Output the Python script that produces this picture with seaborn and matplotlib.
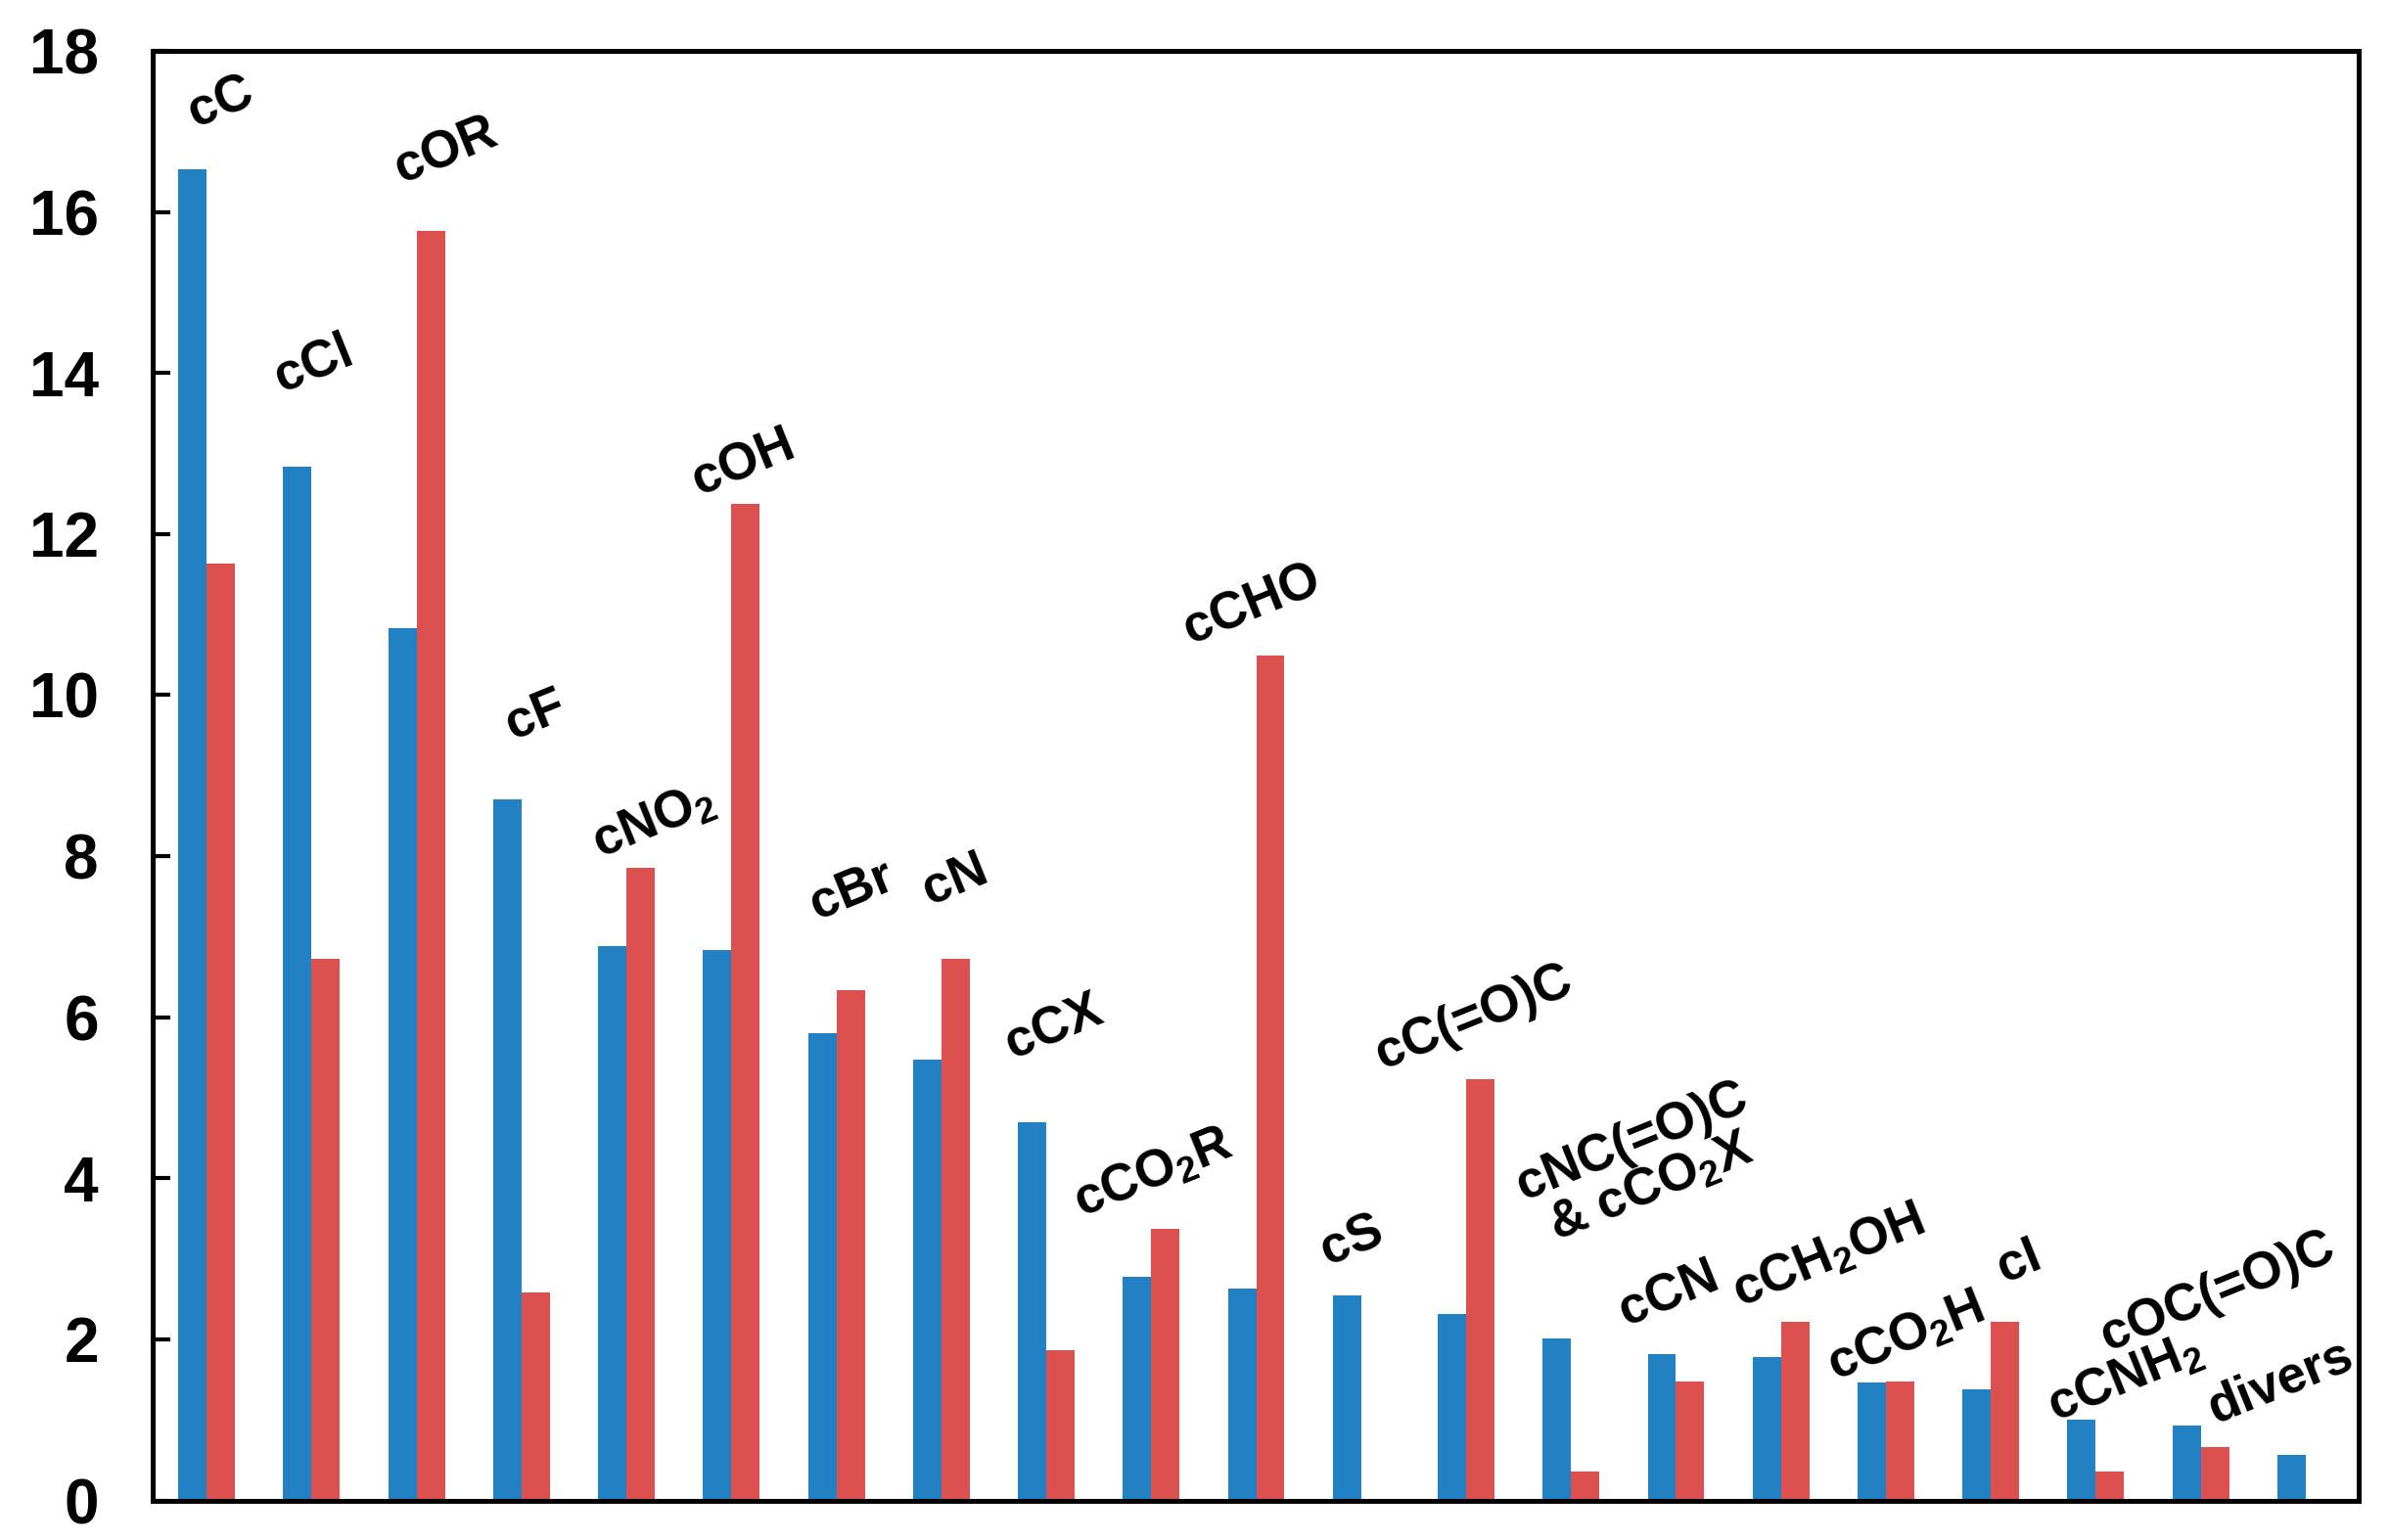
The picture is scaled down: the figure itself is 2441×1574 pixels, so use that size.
import numpy as np
import pandas as pd
import seaborn as sns
import matplotlib.pyplot as plt

groups = ['cC', 'cCl', 'cOR', 'cF', 'cNO2', 'cOH', 'cBr', 'cN', 'cCX', 'cCO2R',
          'cCHO', 'cS', 'cC(=O)C', 'cNC(=O)C & cCO2X', 'cCN', 'cCH2OH', 'cCO2H',
          'cI', 'cCNH2', 'cOC(=O)C', 'divers']
blue_vals = [16.53, 12.84, 10.83, 8.71, 6.88, 6.84, 5.80, 5.47, 4.70, 2.78,
             2.63, 2.54, 2.31, 2.01, 1.82, 1.78, 1.46, 1.38, 1.00, 0.93, 0.57]
red_vals = [11.63, 6.72, 15.76, 2.58, 7.86, 12.37, 6.34, 6.72, 1.86, 3.37,
            10.49, 0.0, 5.23, 0.36, 1.48, 2.22, 1.48, 2.22, 0.36, 0.66, 0.0]
bar_labels = ['cC', 'cCl', 'cOR', 'cF', r'cNO$_\mathbf{2}$', 'cOH', 'cBr', 'cN', 'cCX',
              r'cCO$_\mathbf{2}$R', 'cCHO', 'cS', 'cC(=O)C',
              'cNC(=O)C\n' + r'& cCO$_\mathbf{2}$X', 'cCN', r'cCH$_\mathbf{2}$OH',
              r'cCO$_\mathbf{2}$H', 'cI', r'cCNH$_\mathbf{2}$', 'cOC(=O)C', 'divers']
yticks = [0, 2, 4, 6, 8, 10, 12, 14, 16, 18]

# where the rotated labels sit (data coords)
label_x = [0.14, 1.02, 2.28, 3.13, 4.26, 5.12, 6.15, 7.13, 8.07, 9.02,
           9.96, 10.91, 12.07, 13.67, 13.93, 15.45, 16.19, 17.27, 18.28, 19.16, 19.76]
label_y = [17.35, 14.11, 16.76, 9.75, 8.43, 12.88, 7.58, 7.71, 5.87, 4.07,
           11.12, 3.22, 6.0, 4.17, 2.56, 3.03, 2.03, 2.97, 1.52, 2.59, 1.47]

df = pd.DataFrame({
    'group': groups * 2,
    'value': blue_vals + red_vals,
    'series': ['blue'] * len(groups) + ['red'] * len(groups),
})

sns.set_style('white')
plt.rcParams['font.family'] = ['Liberation Sans', 'DejaVu Sans']
plt.rcParams['font.weight'] = 'bold'
plt.rcParams['text.color'] = 'black'
plt.rcParams['ytick.color'] = 'black'
plt.rcParams['mathtext.fontset'] = 'custom'
plt.rcParams['mathtext.bf'] = 'Liberation Sans:bold'
plt.rcParams['mathtext.rm'] = 'Liberation Sans:bold'

fig = plt.figure(figsize=(24.41, 15.74), dpi=100)
ax = fig.add_axes([0.0641, 0.0257, 0.923, 0.9413])

sns.barplot(data=df, x='group', y='value', hue='series',
            palette=['#2181C2', '#DC5050'], width=0.54, saturation=1,
            legend=False, linewidth=0, edgecolor='none', ax=ax)

for lx, ly, txt in zip(label_x, label_y, bar_labels):
    ax.text(lx, ly, txt, rotation=22, ha='center', va='center',
            multialignment='center', fontsize=38, fontweight='bold',
            color='black', rotation_mode='anchor', linespacing=1.0)

ax.set_xlim(-0.51, 20.5)
ax.set_ylim(0, 18)
ax.set_yticks(yticks)
ax.set_yticklabels([str(t) for t in yticks], fontsize=46, fontweight='bold')
ax.set_xticks([])
ax.set_xlabel('')
ax.set_ylabel('')
ax.tick_params(axis='y', direction='in', length=13, width=3, pad=40, left=True,
               colors='black')
for sp in ax.spines.values():
    sp.set_visible(True)
    sp.set_color('black')
    sp.set_linewidth(3.6)

fig.savefig('out.png', dpi=100)
